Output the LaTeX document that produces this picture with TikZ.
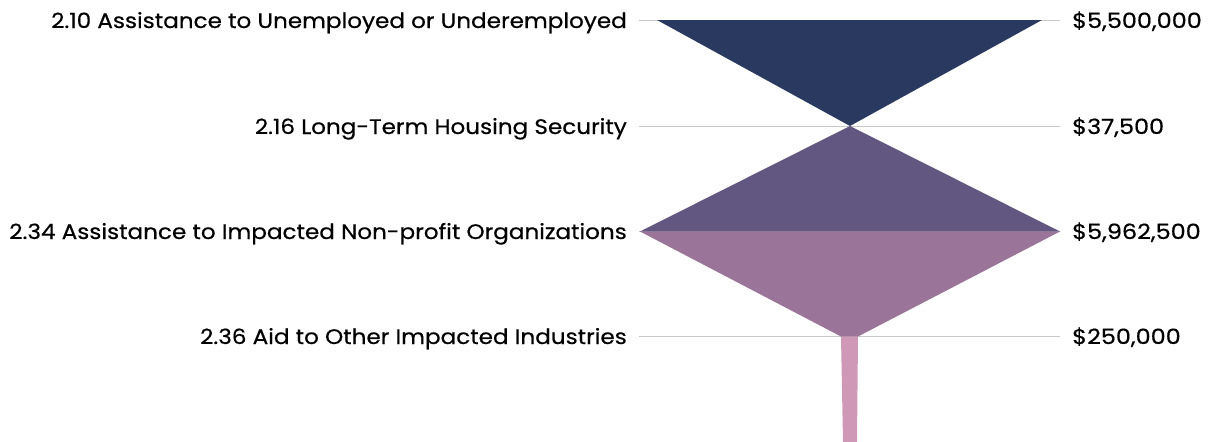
\documentclass[tikz,border=0pt]{standalone}
\usepackage{fontspec}
\setmainfont{Poppins}[FakeBold=0.5]
\definecolor{cnavy}{HTML}{2A3960}
\definecolor{cpurple}{HTML}{625780}
\definecolor{cmauve}{HTML}{9A7499}
\definecolor{cpink}{HTML}{CE98B6}
\definecolor{cgrid}{HTML}{C8C8C8}
\newcommand{\lbltext}[1]{\scalebox{1.1}[1]{#1}}
\newcommand{\valtext}[1]{\scalebox{1.14}[1]{#1}}
\begin{document}
\begin{tikzpicture}[x=1pt,y=-1pt,
  lbl/.style={anchor=base east,inner sep=0pt,font=\fontsize{21}{24}\selectfont},
  val/.style={anchor=base west,inner sep=0pt,font=\fontsize{21}{24}\selectfont},
  gridline/.style={draw=cgrid,line width=0.8pt}]
\useasboundingbox (0,0) rectangle (1211,442);
% grid lines
\foreach \y/\n in {20/a,126/b,231/c,336/d}{
  \coordinate (L\n) at (639,\y);
  \coordinate (R\n) at (1060,\y);
  \draw[gridline] (L\n) -- (R\n);
}
% shapes
\fill[cnavy] (657,20) -- (1042,20) -- (850,126) -- cycle;
\fill[cpurple] (850,126) -- (1060,231.5) -- (640,231.5) -- cycle;
\fill[cmauve] (640,231.5) -- (1060,231.5) -- (858,336.5) -- (841,336.5) -- cycle;
\fill[cpink] (841,336.5) -- (858,336.5) -- (857,442) -- (843,442) -- cycle;
% labels
\node[lbl] (t1) at (627,28) {\lbltext{2.10 Assistance to Unemployed or Underemployed}};
\node[lbl] (t2) at (627,134) {\lbltext{2.16 Long-Term Housing Security}};
\node[lbl] (t3) at (627,239) {\lbltext{2.34 Assistance to Impacted Non-profit Organizations}};
\node[lbl] (t4) at (627,344) {\lbltext{2.36 Aid to Other Impacted Industries}};
\node[val] (v1) at (1072,28) {\valtext{\$5,500,000}};
\node[val] (v2) at (1072,134) {\valtext{\$37,500}};
\node[val] (v3) at (1072,239) {\valtext{\$5,962,500}};
\node[val] (v4) at (1072,344) {\valtext{\$250,000}};
\end{tikzpicture}
\end{document}
